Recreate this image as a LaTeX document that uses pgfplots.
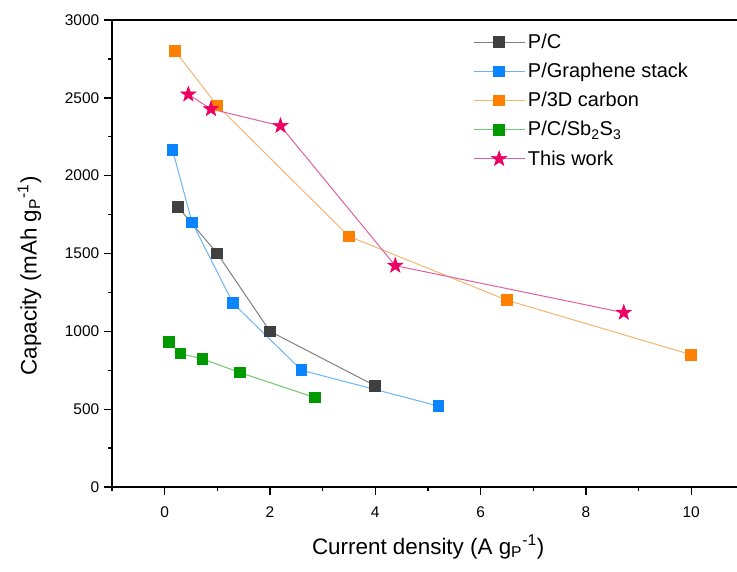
\documentclass[border=0pt]{standalone}
\usepackage{fontspec}
\setmainfont{Liberation Sans}
\usepackage{pgfplots}
\pgfplotsset{compat=1.18}
\definecolor{pcm}{HTML}{404040}
\definecolor{pcl}{HTML}{808080}
\definecolor{gm}{HTML}{0A84FF}
\definecolor{gl}{HTML}{6CB4F5}
\definecolor{om}{HTML}{FF8000}
\definecolor{ol}{HTML}{F4B572}
\definecolor{grm}{HTML}{009900}
\definecolor{grl}{HTML}{70C870}
\definecolor{tm}{HTML}{EE0062}
\definecolor{tl}{HTML}{E0609E}
\pgfdeclareplotmark{fstar}{%
  \pgfpathmoveto{\pgfpointpolar{90}{\pgfplotmarksize}}%
  \pgfpathlineto{\pgfpointpolar{126}{0.4\pgfplotmarksize}}%
  \pgfpathlineto{\pgfpointpolar{162}{\pgfplotmarksize}}%
  \pgfpathlineto{\pgfpointpolar{198}{0.4\pgfplotmarksize}}%
  \pgfpathlineto{\pgfpointpolar{234}{\pgfplotmarksize}}%
  \pgfpathlineto{\pgfpointpolar{270}{0.4\pgfplotmarksize}}%
  \pgfpathlineto{\pgfpointpolar{306}{\pgfplotmarksize}}%
  \pgfpathlineto{\pgfpointpolar{342}{0.4\pgfplotmarksize}}%
  \pgfpathlineto{\pgfpointpolar{18}{\pgfplotmarksize}}%
  \pgfpathlineto{\pgfpointpolar{54}{0.4\pgfplotmarksize}}%
  \pgfpathclose
  \pgfusepathqfillstroke
}
\begin{document}
\begin{tikzpicture}
\begin{axis}[
  scale only axis,
  width=468.75pt, height=350.25pt,
  xmin=-1, xmax=10.87, ymin=0, ymax=3000,
  axis x line*=bottom, axis y line*=left,
  axis line style={line width=1pt, black},
  clip=false,
  xtick={0,2,...,10}, minor xtick={-1,1,3,5,7,9},
  ytick={0,500,...,3000}, minor ytick={250,750,...,2750},
  tick align=outside,
  major tick length=6pt, minor tick length=3pt,
  tick style={line width=1pt, black},
  /pgf/number format/assume math mode=true,
  /pgf/number format/set thousands separator={},
  tick label style={font=\fontsize{11.6}{13}\selectfont},
  xticklabel style={yshift=-5.5pt},
  xlabel={Current density (A g\textsubscript{P}\textsuperscript{-1})},
  ylabel={Capacity (mAh g\textsubscript{P}\textsuperscript{-1})},
  every axis x label/.style={at={(axis description cs:0.506,-0.128)}, anchor=center, font=\fontsize{16.8}{20}\selectfont},
  every axis y label/.style={at={(axis description cs:-0.132,0.452)}, anchor=center, rotate=90, font=\fontsize{16.8}{20}\selectfont},
  legend style={at={(axis description cs:0.573,0.982)}, anchor=north west,
    draw=none, fill=none, font=\fontsize{15}{18}\selectfont,
    row sep=5.5pt, inner sep=2pt},
  legend cell align=left,
  legend image code/.code={
    \draw[#1, mark=none] (0cm,0cm) -- (1.35cm,0cm);
    \draw[#1, only marks] plot coordinates {(0.675cm,0cm)};
  },
]
\addplot[pcl, line width=0.75pt, mark=square*, mark size=4pt, mark options={fill=pcm, draw=pcm}]
  coordinates {(0.25,1800) (1,1500) (2,1000) (4,650)};
\addlegendentry{P/C}
\addplot[gl, line width=0.75pt, mark=square*, mark size=4pt, mark options={fill=gm, draw=gm}]
  coordinates {(0.15,2165) (0.52,1700) (1.3,1180) (2.6,750) (5.2,520)};
\addlegendentry{P/Graphene stack}
\addplot[ol, line width=0.75pt, mark=square*, mark size=4pt, mark options={fill=om, draw=om}]
  coordinates {(0.2,2800) (1,2450) (3.5,1610) (6.5,1200) (10,850)};
\addlegendentry{P/3D carbon}
\addplot[grl, line width=0.75pt, mark=square*, mark size=4pt, mark options={fill=grm, draw=grm}]
  coordinates {(0.08,932) (0.3,857) (0.72,823) (1.43,735) (2.86,574)};
\addlegendentry{P/C/Sb\textsubscript{2}S\textsubscript{3}}
\addplot[tl, line width=0.75pt, mark=fstar, mark size=6pt, mark options={fill=tm, draw=tm, line width=0.4pt}]
  coordinates {(0.45,2522) (0.88,2428) (2.2,2320) (4.38,1422) (8.72,1120)};
\addlegendentry{This work}
\draw[line width=1pt, black] (rel axis cs:0,1) -- (rel axis cs:1,1);
\coordinate (bl) at (rel axis cs:0,0);
\coordinate (tr) at (rel axis cs:1,1);
\end{axis}
\pgfresetboundingbox
\path (bl) ++(-84pt,-63.75pt) rectangle (tr);
\path (tr) ++(0,15pt);
\end{tikzpicture}
\end{document}
